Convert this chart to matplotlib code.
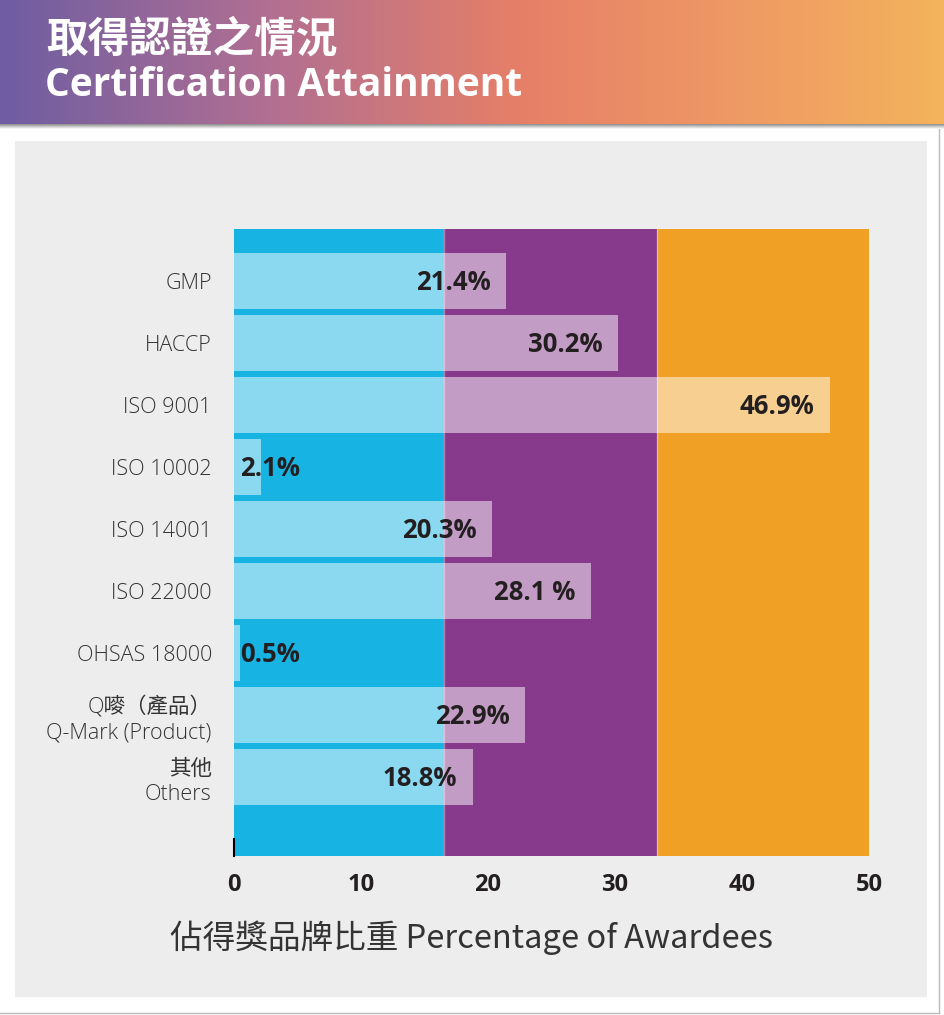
import matplotlib.pyplot as plt
import matplotlib.patches as mpatches
from matplotlib.colors import LinearSegmentedColormap
import numpy as np

# 數據
categories = ['GMP', 'HACCP', 'ISO 9001', 'ISO 10002', 'ISO 14001', 'ISO 22000',
              'OHSAS 18000', 'Q嘜（產品）\nQ-Mark (Product)', '其他\nOthers']
values = [21.4, 30.2, 46.9, 2.1, 20.3, 28.1, 0.5, 22.9, 18.8]
value_labels = ['21.4%', '30.2%', '46.9%', '2.1%', '20.3%', '28.1 %', '0.5%', '22.9%', '18.8%']
xticks = [0, 10, 20, 30, 40, 50]
bands = [0, 16.5, 33.3, 50]

W, H = 944, 1015
fig = plt.figure(figsize=(W / 100, H / 100), dpi=100)
fig.patch.set_facecolor('white')

# 顏色
c_blue = '#17B4E3'
c_purple = '#873A8C'
c_orange = '#F0A024'
c_text = '#231F20'
c_label = '#333333'
band_colors = [c_blue, c_purple, c_orange]
latin = ['Open Sans', 'DejaVu Sans']

# 灰色底板
fig.patches.append(mpatches.Rectangle((15 / W, 1 - 997 / H), (927 - 15) / W, (997 - 141) / H,
                                      transform=fig.transFigure, facecolor='#EDEDED',
                                      edgecolor='none', zorder=-5))
# 右及底邊線
fig.add_artist(plt.Line2D([939 / W, 939 / W], [1 - 1013 / H, 1 - 125 / H],
                          transform=fig.transFigure, color='#BBBBBB', lw=1, zorder=-4))
fig.add_artist(plt.Line2D([0, 939 / W], [1 - 1013 / H, 1 - 1013 / H],
                          transform=fig.transFigure, color='#BBBBBB', lw=1, zorder=-4))

# 標題漸變
hax = fig.add_axes([0, 1 - 124 / H, 1, 124 / H])
cmap = LinearSegmentedColormap.from_list('hdr', [
    (0.0, '#6E5DA2'), (0.28, '#B06F92'), (0.55, '#E67F68'),
    (0.8, '#EF9C64'), (1.0, '#F4B35C')])
hax.imshow(np.linspace(0, 1, 256)[None, :], aspect='auto', cmap=cmap, extent=[0, 1, 0, 1])
hax.set_xlim(0, 1)
hax.set_ylim(0, 1)
hax.axis('off')
# 陰影
sax = fig.add_axes([0, 1 - 129 / H, 1, 5 / H])
sax.imshow(np.linspace(0.55, 1, 32)[:, None], aspect='auto', cmap='gray', vmin=0, vmax=1,
           extent=[0, 1, 0, 1])
sax.axis('off')

fig.text(46 / W, 1 - 40 / H, '取得認證之情況', color='white', fontsize=30,
         family=['Noto Sans CJK TC'], weight='bold', va='center', ha='left')
fig.text(45 / W, 1 - 86 / H, 'Certification Attainment', color='white', fontsize=28,
         family=latin, weight='bold', va='center', ha='left')

# 主圖
ax = fig.add_axes([234 / W, 1 - 856 / H, (869 - 234) / W, (856 - 229) / H])
ax.set_facecolor('none')
y = np.arange(len(categories))
ax.set_xlim(0, 50)
ax.set_ylim(len(categories) - 1 + 79 / 62, -52 / 62)

for i in range(3):
    ax.axvspan(bands[i], bands[i + 1], color=band_colors[i], lw=0, zorder=1)
for b in bands[1:3]:
    ax.axvline(b, color='white', alpha=0.35, lw=1, zorder=1.5)

ax.barh(y, values, height=0.89, color='white', alpha=0.5, edgecolor='none', zorder=2)

for yi, v, lab in zip(y, values, value_labels):
    if v > 5:
        ax.text(v - 1.2, yi + 0.03, lab, ha='right', va='center', fontsize=18.5, weight='bold',
                color=c_text, family=latin, zorder=3)
    else:
        ax.text(0.45, yi + 0.03, lab, ha='left', va='center', fontsize=18.5, weight='bold',
                color=c_text, family=latin, zorder=3)

ax.set_yticks(y)
ax.set_yticklabels(categories, fontsize=15.5, color=c_label,
                   family=['Open Sans', 'Noto Sans CJK TC'], weight='light', linespacing=1.3)
ax.set_xticks(xticks)
ax.set_xticklabels([str(t) for t in xticks], fontsize=17, weight='bold', color=c_text,
                   family=latin)
ax.tick_params(axis='y', length=0, pad=16)
ax.tick_params(axis='x', length=0, pad=12)
for s in ax.spines.values():
    s.set_visible(False)

# 左下小刻度
ylo = len(categories) - 1 + 79 / 62
ax.plot([0, 0], [ylo, ylo - 0.27], color='black', lw=1.5, clip_on=False, zorder=4)

fig.text(472 / W, 1 - 938 / H, '佔得獎品牌比重 Percentage of Awardees', fontsize=23.5,
         color=c_label, family=['Noto Sans CJK TC'], weight='light', ha='center', va='center')

fig.savefig('out.png', dpi=100, facecolor=fig.get_facecolor())
